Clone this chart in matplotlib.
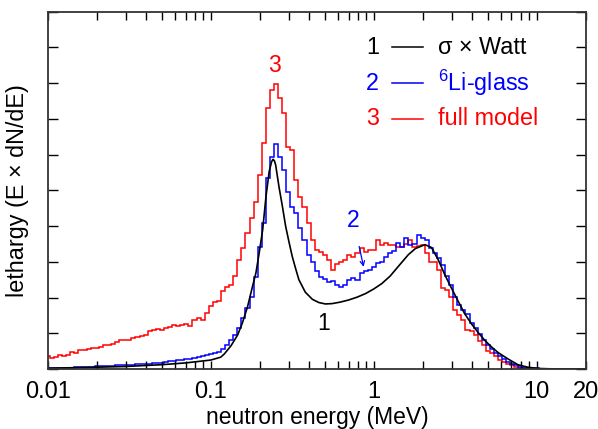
import numpy as np
import matplotlib.pyplot as plt
from matplotlib.ticker import FixedLocator, NullFormatter

plt.rcParams['font.family'] = ['Liberation Sans', 'DejaVu Sans']
plt.rcParams['mathtext.fontset'] = 'custom'
plt.rcParams['mathtext.rm'] = 'Liberation Sans'

# histogram bins: 40 per decade, centred on 10**(-2 + 0.025 k)
log_first_edge = -2.0125
log_bin_width = 0.025
n_bins = 133

# full model (red)
full_model = [0.35, 0.30, 0.34, 0.39, 0.37, 0.40, 0.47, 0.44, 0.52, 0.54,
              0.56, 0.59, 0.58, 0.62, 0.66, 0.68, 0.71, 0.75, 0.80, 0.82,
              0.82, 0.86, 0.89, 0.92, 0.94, 1.06, 1.09,
              1.12, 1.09, 1.14, 1.17, 1.23, 1.20, 1.22, 1.26, 1.20, 1.37,
              1.42, 1.36, 1.58, 1.75, 1.87, 1.90, 2.18, 2.30, 2.36, 2.60, 3.05,
              3.38, 3.80, 4.22, 4.68, 5.43, 6.33, 7.30, 7.81, 7.98, 7.58,
              7.16, 6.22, 6.13, 5.29, 4.82, 4.54, 4.08,
              3.61, 3.33, 3.28, 3.19, 3.05, 2.77, 2.95, 3.00, 3.05, 3.19,
              3.14, 3.24, 3.38, 3.28, 3.33, 3.33, 3.61, 3.47, 3.52, 3.47,
              3.47, 3.42, 3.42, 3.51, 3.60, 3.42, 3.45, 3.47, 3.24, 3.00,
              3.00, 2.77, 2.26, 2.20, 2.02, 1.65, 1.51, 1.37, 1.09, 1.05, 0.95,
              0.78, 0.67, 0.50, 0.44, 0.36, 0.26, 0.20, 0.13, 0.10, 0.06,
              0.04, 0.02, 0.015, 0.01, 0.005, 0, 0, 0, 0, 0, 0, 0, 0, 0, 0, 0, 0]

# 6Li-glass (blue)
li_glass = [0.03, 0.03, 0.03, 0.04, 0.03, 0.04, 0.04, 0.05, 0.05, 0.05,
            0.06, 0.06, 0.07, 0.07, 0.08, 0.08, 0.09, 0.10, 0.10, 0.11,
            0.11, 0.12, 0.13, 0.13, 0.14, 0.15, 0.16, 0.17, 0.18, 0.19,
            0.21, 0.22, 0.24, 0.25, 0.27, 0.29, 0.31, 0.33, 0.36, 0.38,
            0.42, 0.45, 0.48,
            0.56, 0.66, 0.80, 0.95, 1.14, 1.42, 1.70, 2.02, 2.58, 3.42,
            4.08, 5.34, 5.94, 6.30, 5.94, 5.57, 4.96, 4.54, 4.36, 3.94,
            3.60, 3.20, 3.00, 2.75, 2.58, 2.51, 2.44, 2.46, 2.35, 2.30,
            2.35, 2.49, 2.54, 2.50, 2.68, 2.73, 2.77, 2.86, 2.96, 3.00,
            3.14, 3.24, 3.30,
            3.52, 3.42, 3.66, 3.47, 3.50, 3.75, 3.66, 3.62, 3.38, 3.24,
            3.10, 2.91, 2.60, 2.35, 2.02, 1.80, 1.65, 1.55, 1.30, 1.14,
            0.98, 0.81, 0.67, 0.55, 0.46, 0.37, 0.28, 0.20, 0.15, 0.10,
            0.06, 0.04, 0.03, 0.02, 0.015, 0.01, 0.005, 0, 0, 0, 0, 0, 0, 0, 0, 0, 0]

# sigma x Watt (black, smooth)
watt_E = [0.01, 0.02, 0.03, 0.05, 0.07, 0.1, 0.115, 0.121, 0.133, 0.146,
          0.156, 0.168, 0.18, 0.189, 0.198, 0.208, 0.218, 0.228, 0.236, 0.241,
          0.246, 0.25, 0.262, 0.275, 0.288, 0.302, 0.316, 0.331, 0.347, 0.38,
          0.42, 0.46, 0.505, 0.555, 0.62, 0.70, 0.79, 0.89, 1.0, 1.12,
          1.26, 1.42, 1.63, 1.8, 2.06, 2.26, 2.49, 2.74, 3.0, 3.3,
          3.6, 3.98, 4.37, 4.8, 5.27, 5.79, 6.67, 7.66, 8.8, 10.1,
          12, 20]
watt_val = [0.02, 0.05, 0.07, 0.12, 0.17, 0.25, 0.33, 0.42, 0.65, 0.95,
            1.28, 1.74, 2.30, 2.68, 3.24, 3.89, 4.82, 5.52, 5.80, 5.87,
            5.82, 5.71, 5.10, 4.55, 3.99, 3.55, 3.15, 2.82, 2.50, 2.15,
            1.95, 1.86, 1.82, 1.83, 1.87, 1.93, 2.01, 2.11, 2.24, 2.39,
            2.60, 2.88, 3.20, 3.37, 3.48, 3.40, 3.05, 2.62, 2.26, 1.89,
            1.56, 1.26, 1.02, 0.80, 0.62, 0.46, 0.28, 0.12, 0.05, 0.015,
            0.005, 0.0]

edges = 10 ** (log_first_edge + log_bin_width * np.arange(n_bins + 1))

fig, ax = plt.subplots(figsize=(5.98, 4.29), dpi=100)
fig.subplots_adjust(left=0.080, right=0.9796, top=0.9727, bottom=0.1399)

ax.stairs(full_model, edges, baseline=None, color='#ff0000', lw=1.1)
ax.stairs(li_glass, edges, baseline=None, color='#0000ff', lw=1.1)
ax.plot(watt_E, watt_val, color='k', lw=1.2)

ax.set_xscale('log')
ax.set_xlim(0.01, 20)
ax.set_ylim(0, 10)

ax.xaxis.set_major_locator(FixedLocator([0.01, 0.1, 1, 10, 20]))
ax.set_xticklabels(['0.01', '0.1', '1', '10', '20'])
minor = [m * d for d in [0.01, 0.1, 1] for m in range(2, 10)]
ax.xaxis.set_minor_locator(FixedLocator(minor))
ax.xaxis.set_minor_formatter(NullFormatter())
ax.set_yticks(range(11))
ax.set_yticklabels([])

ax.tick_params(axis='x', which='both', direction='in', top=True, length=6, width=1, pad=9, labelsize=17)
ax.tick_params(axis='y', which='both', direction='in', right=True, length=7, width=1)
for sp in ax.spines.values():
    sp.set_linewidth(1.3)
    sp.set_color('#333333')

ax.set_xlabel('neutron energy (MeV)', fontsize=16.5)
ax.xaxis.set_label_coords(0.5, -0.1036)
ax.set_ylabel('lethargy (E × dN/dE)', fontsize=16.8)
ax.yaxis.set_label_coords(-0.0355, 0.5)

# curve labels
ax.text(0.246, 8.5, '3', color='#ff0000', fontsize=16.5, ha='center', va='center')
ax.text(0.493, 1.28, '1', color='k', fontsize=16.5, ha='center', va='center')
ax.annotate('2', xy=(0.866, 2.86), xytext=(0.75, 4.17), color='#0000ff',
            fontsize=16.5, ha='center', va='center',
            arrowprops=dict(arrowstyle='->', color='#0000ff', lw=0.9,
                            shrinkA=9, shrinkB=0, mutation_scale=8))

# legend drawn by hand
legend_rows = [('1', 'σ × Watt', 'k'),
               ('2', r'$^{6}$Li-glass', '#0000ff'),
               ('3', 'full model', '#ff0000')]
for i, (num, lab, col) in enumerate(legend_rows):
    yy = 0.9 - 0.1 * i
    ax.text(0.604, yy, num, color=col, fontsize=16.8, ha='center', va='center', transform=ax.transAxes)
    ax.plot([0.640, 0.697], [yy, yy], color=col, lw=1.1, transform=ax.transAxes)
    ax.text(0.725, yy, lab, color=col, fontsize=16.8, ha='left', va='center', transform=ax.transAxes)

fig.savefig('out.png', dpi=100)
